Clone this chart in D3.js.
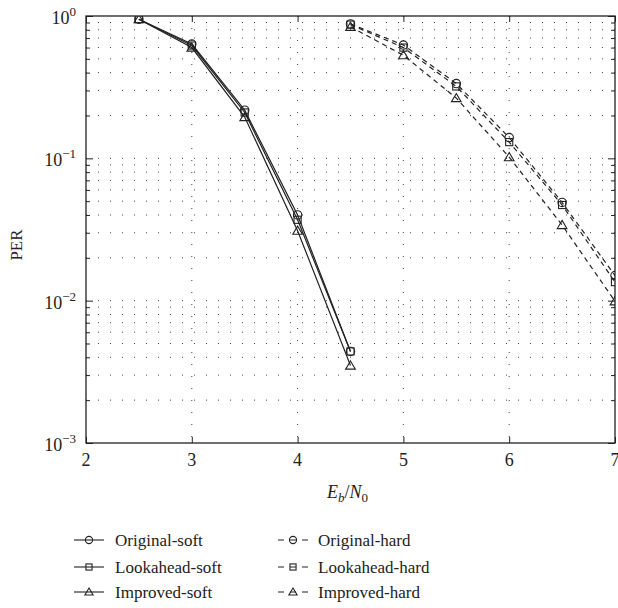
<!DOCTYPE html>
<html>
<head>
<meta charset="utf-8">
<script src="https://cdn.jsdelivr.net/npm/d3@7"></script>
<style>
  body { margin: 0; background: #fff; }
  text { font-family: "Liberation Serif", "DejaVu Serif", serif; fill: #222; }
</style>
</head>
<body>
<script>
// data
var softX = [2.5, 3, 3.5, 4, 4.5];
var hardX = [4.5, 5, 5.5, 6, 6.5, 7];
var originalSoft = [0.95, 0.635, 0.218, 0.040, 0.0044];
var lookaheadSoft = [0.95, 0.62, 0.21, 0.037, 0.0044];
var improvedSoft = [0.95, 0.60, 0.195, 0.031, 0.0035];
var originalHard = [0.88, 0.625, 0.335, 0.14, 0.049, 0.015];
var lookaheadHard = [0.87, 0.60, 0.32, 0.13, 0.047, 0.0135];
var improvedHard = [0.84, 0.53, 0.265, 0.102, 0.034, 0.0099];
var xTicks = [2, 3, 4, 5, 6, 7];
var yTicks = [1e-3, 1e-2, 1e-1, 1];
var yTickExp = ["\u22123", "\u22122", "\u22121", "0"];

var series = [
  {name: "Original-soft", x: softX, y: originalSoft, marker: "circle", dash: null},
  {name: "Lookahead-soft", x: softX, y: lookaheadSoft, marker: "square", dash: null},
  {name: "Improved-soft", x: softX, y: improvedSoft, marker: "triangle", dash: null},
  {name: "Original-hard", x: hardX, y: originalHard, marker: "circle", dash: "5,4"},
  {name: "Lookahead-hard", x: hardX, y: lookaheadHard, marker: "square", dash: "5,4"},
  {name: "Improved-hard", x: hardX, y: improvedHard, marker: "triangle", dash: "5,4"}
];

var W = 618, H = 608;
var margin = {top: 16, right: 3, bottom: 165, left: 86},
    width = W - margin.left - margin.right,
    height = H - margin.top - margin.bottom;

var svg = d3.select("body").append("svg")
    .attr("width", W)
    .attr("height", H);

var g = svg.append("g")
    .attr("transform", "translate(" + margin.left + "," + margin.top + ")");

var x = d3.scaleLinear().domain([2, 7]).range([0, width]);
var y = d3.scaleLog().domain([1e-3, 1]).range([height, 0]);

// minor log values
var minor = [];
[1e-3, 1e-2, 1e-1].forEach(function(d) {
  for (var k = 2; k <= 9; k++) minor.push(d * k);
});
var hGrid = minor.concat([1e-2, 1e-1]);

g.append("clipPath").attr("id", "clip")
  .append("rect").attr("width", width).attr("height", height);

// dotted grid
g.selectAll(".hgrid").data(hGrid).enter().append("line")
    .attr("x1", 0).attr("x2", width)
    .attr("y1", function(d) { return y(d); })
    .attr("y2", function(d) { return y(d); })
    .attr("stroke", "#444").attr("stroke-width", 1)
    .attr("stroke-dasharray", "1,11");

g.selectAll(".vgrid").data(xTicks.slice(1, -1)).enter().append("line")
    .attr("y1", 0).attr("y2", height)
    .attr("x1", function(d) { return x(d); })
    .attr("x2", function(d) { return x(d); })
    .attr("stroke", "#444").attr("stroke-width", 1)
    .attr("stroke-dasharray", "1,11");

// ticks (inward, all four sides)
function tickAxis(axis, tx, ty) {
  var a = g.append("g").attr("transform", "translate(" + tx + "," + ty + ")").call(axis);
  a.select(".domain").remove();
  a.selectAll("text").remove();
  a.selectAll("line").attr("stroke", "#222");
  return a;
}
tickAxis(d3.axisBottom(x).tickValues(xTicks).tickSize(-6), 0, height);
tickAxis(d3.axisTop(x).tickValues(xTicks).tickSize(-6), 0, 0);
tickAxis(d3.axisLeft(y).tickValues(yTicks).tickSize(-7), 0, 0);
tickAxis(d3.axisRight(y).tickValues(yTicks).tickSize(-7), width, 0);
tickAxis(d3.axisLeft(y).tickValues(minor).tickSize(-4), 0, 0);
tickAxis(d3.axisRight(y).tickValues(minor).tickSize(-4), width, 0);

// frame
g.append("rect")
    .attr("width", width).attr("height", height)
    .attr("fill", "none").attr("stroke", "#222").attr("stroke-width", 1.3);

// tick labels
g.selectAll(".xl").data(xTicks).enter().append("text")
    .attr("x", function(d) { return x(d); })
    .attr("y", height + 23)
    .attr("text-anchor", "middle")
    .style("font-size", "18px")
    .text(function(d) { return d; });

var yl = g.selectAll(".yl").data(yTicks).enter().append("text")
    .attr("x", -10)
    .attr("y", function(d) { return y(d) + 8; })
    .attr("text-anchor", "end")
    .style("font-size", "18px");
yl.append("tspan").text("10");
yl.append("tspan")
    .attr("dy", -8)
    .style("font-size", "13px")
    .text(function(d, i) { return yTickExp[i]; });

// axis titles
var xt = svg.append("text")
    .attr("x", margin.left + width / 2 - 3)
    .attr("y", 498)
    .attr("text-anchor", "middle")
    .style("font-size", "18px");
xt.append("tspan").style("font-style", "italic").text("E");
xt.append("tspan").style("font-style", "italic").style("font-size", "13px").attr("dy", 4).text("b");
xt.append("tspan").attr("dy", -4).text("/");
xt.append("tspan").style("font-style", "italic").text("N");
xt.append("tspan").style("font-size", "13px").attr("dy", 4).text("0");

svg.append("text")
    .attr("transform", "translate(22,245) rotate(-90)")
    .attr("text-anchor", "middle")
    .style("font-size", "17px")
    .text("PER");

// markers (hollow, line shows through)
function drawMarker(sel, type, s) {
  if (type === "circle") {
    sel.append("circle").attr("r", s);
  } else if (type === "square") {
    sel.append("rect").attr("x", -s * 0.85).attr("y", -s * 0.85)
      .attr("width", s * 1.7).attr("height", s * 1.7);
  } else {
    sel.append("path")
      .attr("d", "M0," + (-s * 1.1) + "L" + (s * 1.15) + "," + (s * 0.85) + "L" + (-s * 1.15) + "," + (s * 0.85) + "Z");
  }
  sel.selectAll("*").attr("fill", "none");
}

var plot = g.append("g").attr("clip-path", "url(#clip)");

var line = d3.line()
    .x(function(d) { return x(d[0]); })
    .y(function(d) { return y(d[1]); });

series.forEach(function(s) {
  var pts = d3.zip(s.x, s.y);
  plot.append("path")
      .datum(pts)
      .attr("d", line)
      .attr("fill", "none")
      .attr("stroke", "#222")
      .attr("stroke-width", 1.2)
      .attr("stroke-dasharray", s.dash);
});

series.forEach(function(s) {
  var pts = d3.zip(s.x, s.y);
  plot.selectAll(null).data(pts).enter().append("g")
      .attr("transform", function(d) { return "translate(" + x(d[0]) + "," + y(d[1]) + ")"; })
      .attr("stroke", "#222").attr("stroke-width", 1.1)
      .each(function() { drawMarker(d3.select(this), s.marker, 4.2); });
});

// legend
var legRows = [540, 567, 592];
series.forEach(function(s, i) {
  var col = i < 3 ? 0 : 1;
  var lx = col === 0 ? 74 : 278;
  var ly = legRows[i % 3];
  var lg = svg.append("g").attr("transform", "translate(" + lx + "," + ly + ")");
  lg.append("line").attr("x1", 0).attr("x2", 30).attr("y1", 0).attr("y2", 0)
    .attr("stroke", "#222").attr("stroke-width", 1.1)
    .attr("stroke-dasharray", s.dash ? "6,6" : null);
  var m = lg.append("g").attr("transform", "translate(15,0)")
      .attr("stroke", "#222").attr("stroke-width", 1.1);
  drawMarker(m, s.marker, 3.6);
  lg.append("text")
      .attr("x", s.dash ? 40 : 41)
      .attr("y", 6)
      .style("font-size", "17px")
      .text(s.name);
});
</script>
</body>
</html>
